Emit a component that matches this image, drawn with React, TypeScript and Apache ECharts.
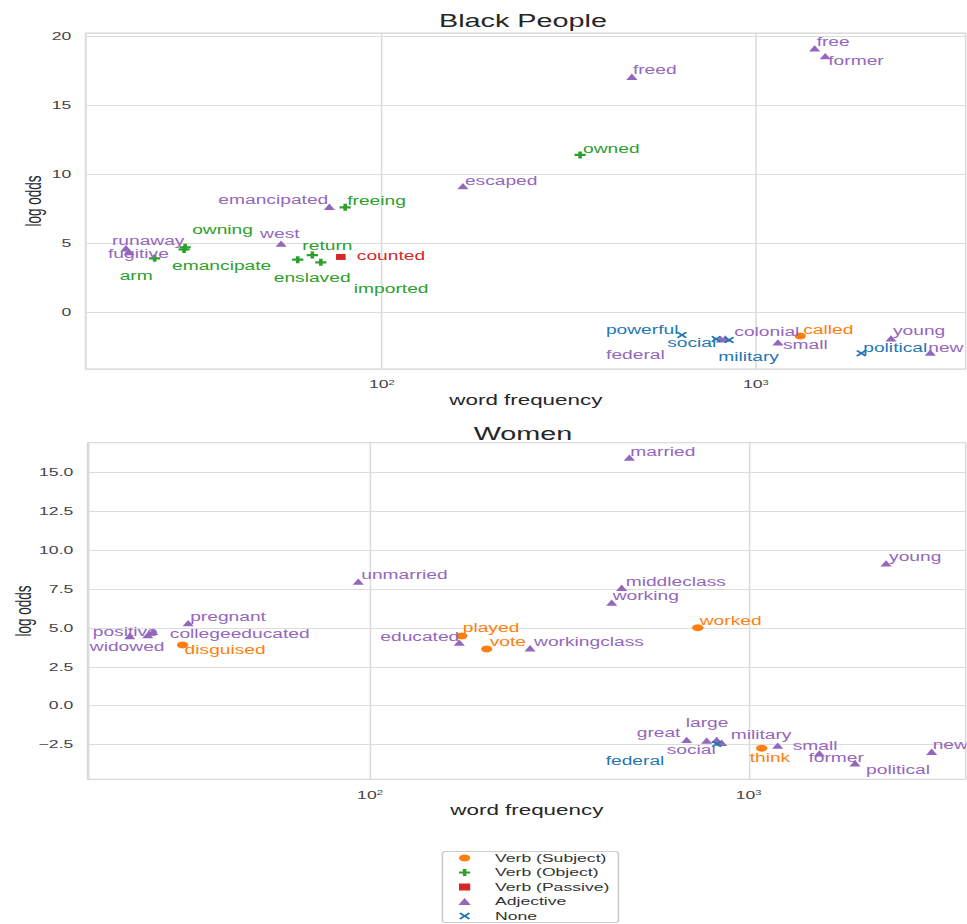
import React, { useEffect, useRef } from "react";
import * as echarts from "echarts";

// The figure is laid out narrow and stretched sideways by this factor.
const STRETCH = 1.6;
const PAGE_W = 967;
const PAGE_H = 924;
const CHART_W = PAGE_W / STRETCH;
const FONT = "'Liberation Sans', Arial, Helvetica, sans-serif";

const POS_KEYS = ["S", "O", "P", "A", "N"];
const POS_NAMES = ["Verb (Subject)", "Verb (Object)", "Verb (Passive)", "Adjective", "None"];
const POS_COLORS = ["#ff7f0e", "#2ca02c", "#d62728", "#9467bd", "#1f77b4"];
const PLUS = "path://M3.4,0H6.6V3.4H10V6.6H6.6V10H3.4V6.6H0V3.4H3.4Z";
const CROSS = "path://M1.6,0L5,3.4L8.4,0L10,1.6L6.6,5L10,8.4L8.4,10L5,6.6L1.6,10L0,8.4L3.4,5L0,1.6Z";
const SQUARE = "path://M0,0H10V10H0Z";
const TRIANGLE = "path://M5,0L10,9L0,9Z";
const POS_SYMBOLS = ["circle", PLUS, SQUARE, TRIANGLE, CROSS];
const POS_SIZES = [7, 7, 6, 7, 6.5];

// ---- Black People ----
const bpWords = [
  "runaway", "fugitive", "arm", "owning", "emancipate", "west", "emancipated", "freeing",
  "return", "enslaved", "imported", "counted", "escaped", "owned", "freed", "free", "former",
  "powerful", "social", "federal", "military", "colonial", "called", "small", "young",
  "political", "new",
];
const bpFreq = [
  20.7, 21.1, 24.7, 29.8, 29.6, 53.8, 72.4, 79.8,
  65.2, 59.6, 68.7, 77.7, 164.7, 338.8, 466, 1435, 1532,
  634, 783, 807, 848, 828, 1313, 1145, 2296,
  1912, 2924,
];
const bpLogOdds = [
  4.62, 4.35, 3.89, 4.69, 4.53, 4.95, 7.63, 7.59,
  4.13, 3.79, 3.6, 3.99, 9.13, 11.38, 17.05, 19.11, 18.55,
  -1.67, -1.96, -1.99, -2.03, -1.92, -1.74, -2.2, -1.91,
  -2.99, -2.95,
];
const bpPos = [
  "A", "A", "O", "O", "O", "A", "A", "O",
  "O", "O", "O", "P", "A", "O", "A", "A", "A",
  "N", "N", "A", "N", "A", "S", "A", "A",
  "N", "A",
];
// word label placement relative to its marker: [dx, dy] in page pixels
const bpLabelOffsets = [
  [-14, -7.6], [-21, 2], [-35, 17.7], [7, -17.3], [-12, 16.5], [-21, -9.7], [-111, -6.7], [2, -6.3],
  [-10, -9], [-24, 18], [33, 27], [16, -0.7], [2, -5], [3, -6], [1, -6.7], [2, -6.6], [3, 5],
  [-76, -5], [-49, 4.3], [-115, 15.5], [-11, 17.3], [9, -6.5], [3, -6], [5, 2.7], [2, -7.3],
  [2, -5.6], [-2, -5],
];

// ---- Women ----
const wWords = [
  "positive", "widowed", "collegeeducated", "pregnant", "disguised", "unmarried", "educated",
  "played", "vote", "workingclass", "married", "middleclass", "working", "worked", "young",
  "great", "large", "social", "military", "federal", "think", "small", "former", "political", "new",
];
const wFreq = [
  23.2, 25.9, 26.7, 33.1, 32.0, 93.1, 172.1,
  174.7, 203.3, 264.6, 484, 462, 434.7, 733.5, 2305,
  686, 774.6, 823, 848.6, 823, 1082, 1193, 1537, 1909, 3042,
];
const wLogOdds = [
  4.48, 4.54, 4.74, 5.3, 3.9, 7.97, 4.05,
  4.48, 3.64, 3.69, 15.94, 7.58, 6.62, 5.01, 9.15,
  -2.2, -2.25, -2.2, -2.38, -2.46, -2.74, -2.57, -3.06, -3.7, -2.96,
];
const wPos = [
  "A", "A", "A", "A", "S", "A", "A",
  "S", "S", "A", "A", "A", "A", "S", "A",
  "A", "A", "A", "A", "N", "S", "A", "A", "A", "A",
];
const wLabelOffsets = [
  [-37, -4.3], [-58, 11.7], [17, 2.3], [2, -6.6], [2, 5], [3, -6.7], [-79, -5.4],
  [1, -8], [3, -6.7], [4, -6.6], [1, -6], [4, -6], [1, -7], [2, -6.7], [3, -6.6],
  [-50, -6.7], [-21, -18], [-50, 10], [9, -7.7], [-111, 16.7], [-12, 9.4], [15, 0.3], [-11, 5], [11, 6.7], [1, -6.7],
];

// Tick values drawn on the y axes
const bpYTicks = [0, 5, 10, 15, 20];
const wYTicks = [-2.5, 0, 2.5, 5, 7.5, 10, 12.5, 15];

function buildSeries(
  axisIndex: number,
  words: string[],
  freq: number[],
  odds: number[],
  pos: string[],
  offsets: number[][]
) {
  return POS_KEYS.map((key, k) => {
    const data: any[] = [];
    words.forEach((w, i) => {
      if (pos[i] !== key) return;
      data.push({
        name: w,
        value: [freq[i], odds[i]],
        label: { offset: [offsets[i][0] / STRETCH, offsets[i][1]] },
      });
    });
    return {
      type: "scatter",
      name: POS_NAMES[k],
      xAxisIndex: axisIndex,
      yAxisIndex: axisIndex,
      symbol: POS_SYMBOLS[k],
      symbolSize: POS_SIZES[k],
      symbolKeepAspect: true,
      itemStyle: { color: POS_COLORS[k], opacity: 1 },
      emphasis: { disabled: true },
      label: {
        show: true,
        position: "inside",
        align: "left",
        verticalAlign: "middle",
        formatter: "{b}",
        color: POS_COLORS[k],
        fontSize: 12,
        fontFamily: FONT,
        textBorderWidth: 0,
      },
      data,
    };
  }).filter((s) => s.data.length > 0);
}

const near = (a: number, b: number) => Math.abs(a - b) < 1e-6;

function xAxis(gridIndex: number, min: number, max: number) {
  return {
    type: "log",
    logBase: 10,
    gridIndex,
    min,
    max,
    name: "word frequency",
    nameLocation: "middle",
    nameGap: 24,
    nameMoveOverlap: false,
    nameTextStyle: { fontSize: 14, color: "#262626", fontFamily: FONT },
    axisLine: { show: false },
    axisTick: { show: false },
    splitLine: { show: true, lineStyle: { color: "#dcdcdc", width: 1 } },
    minorSplitLine: { show: false },
    axisLabel: {
      margin: 10,
      color: "#444",
      fontSize: 11,
      fontFamily: FONT,
      formatter: (v: number) => {
        const e = Math.log10(v);
        const r = Math.round(e);
        return near(e, r) ? `10{sup|${r}}` : "";
      },
      rich: {
        sup: { fontSize: 7, verticalAlign: "top", color: "#444", fontFamily: FONT },
      },
    },
  };
}

function yAxis(
  gridIndex: number,
  min: number,
  max: number,
  step: number,
  ticks: number[],
  digits: number,
  nameGap: number
) {
  return {
    type: "value",
    gridIndex,
    min,
    max,
    minInterval: step,
    maxInterval: step,
    name: "log odds",
    nameLocation: "middle",
    nameGap,
    nameMoveOverlap: false,
    nameTextStyle: { fontSize: 13.5, color: "#262626", fontFamily: FONT },
    axisLine: { show: false },
    axisTick: { show: false },
    splitLine: { show: true, lineStyle: { color: "#dcdcdc", width: 1 } },
    axisLabel: {
      margin: 9,
      color: "#444",
      fontSize: 11,
      fontFamily: FONT,
      formatter: (v: number) => {
        const t = ticks.find((x) => near(x, v));
        if (t === undefined) return "";
        return t.toFixed(digits).replace("-", "\u2212");
      },
    },
  };
}

export default function App() {
  const ref = useRef<HTMLDivElement>(null);

  useEffect(() => {
    if (!ref.current) return;
    const chart = echarts.init(ref.current, undefined, {
      renderer: "svg",
      width: CHART_W,
      height: PAGE_H,
    });

    const gridBase = {
      show: true,
      backgroundColor: "#ffffff",
      borderColor: "#d6d6d6",
      borderWidth: 1,
      containLabel: false,
      outerBoundsMode: "none",
    };

    const option: any = {
      animation: false,
      backgroundColor: "#ffffff",
      textStyle: { fontFamily: FONT },
      grid: [
        {
          ...gridBase,
          left: 85.7 / STRETCH,
          top: 33,
          width: (966 - 85.7) / STRETCH,
          height: 336,
        },
        {
          ...gridBase,
          left: 87.7 / STRETCH,
          top: 442.7,
          width: (966 - 87.7) / STRETCH,
          height: 336.6,
        },
      ],
      xAxis: [xAxis(0, 16.16, 3643), xAxis(1, 17.97, 3748)],
      yAxis: [
        yAxis(0, -4.13, 20.22, 5, bpYTicks, 0, 25.5),
        yAxis(1, -4.73, 16.9, 2.5, wYTicks, 1, 33),
      ],
      legend: {
        data: POS_NAMES,
        orient: "vertical",
        left: 286.5,
        top: 852.5,
        padding: 0,
        itemGap: 3.5,
        itemWidth: 28,
        itemHeight: 7,
        selectedMode: false,
        textStyle: { fontSize: 11, color: "#333", fontFamily: FONT },
      },
      graphic: [
        {
          type: "text",
          x: 523 / STRETCH,
          y: 21,
          style: {
            text: "Black People",
            fontSize: 18,
            fontFamily: FONT,
            fill: "#262626",
            textAlign: "center",
            textVerticalAlign: "middle",
          },
        },
        {
          type: "text",
          x: 523 / STRETCH,
          y: 434,
          style: {
            text: "Women",
            fontSize: 18,
            fontFamily: FONT,
            fill: "#262626",
            textAlign: "center",
            textVerticalAlign: "middle",
          },
        },
        {
          type: "rect",
          z: -1,
          shape: { x: 276.5, y: 851.5, width: 110, height: 71, r: 2 },
          style: { fill: "#ffffff", stroke: "#cccccc", lineWidth: 1 },
        },
      ],
      series: [
        ...buildSeries(0, bpWords, bpFreq, bpLogOdds, bpPos, bpLabelOffsets),
        ...buildSeries(1, wWords, wFreq, wLogOdds, wPos, wLabelOffsets),
      ],
    };

    chart.setOption(option);
    return () => chart.dispose();
  }, []);

  return (
    <div
      style={{
        position: "absolute",
        left: 0,
        top: 0,
        width: PAGE_W,
        height: PAGE_H,
        overflow: "hidden",
        background: "#fff",
      }}
    >
      <div
        ref={ref}
        style={{
          width: CHART_W,
          height: PAGE_H,
          transform: `scaleX(${STRETCH})`,
          transformOrigin: "0 0",
        }}
      />
    </div>
  );
}
